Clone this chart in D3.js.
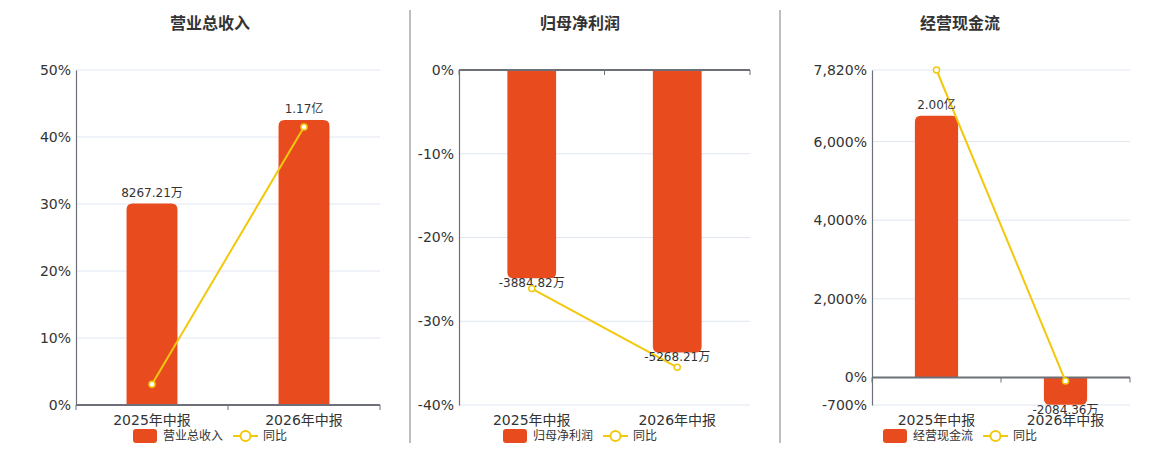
<!DOCTYPE html>
<html>
<head>
<meta charset="utf-8">
<script src="https://cdn.jsdelivr.net/npm/d3@7"></script>
<style>
  body { margin: 0; background: #fff; }
  text { font-family: "DejaVu Sans", "Noto Sans CJK SC", sans-serif; fill: #333; }
</style>
</head>
<body>
<div id="chart"></div>
<script>
// data (amounts in 万元, yoy in %)
const categories = ['2025年中报', '2026年中报'];

const revenueValues = [8267.21, 11700];
const revenueLabels = ['8267.21万', '1.17亿'];
const revenueYoy = [3.1, 41.5];
const revenueTicks = [0, 10, 20, 30, 40, 50];

const profitValues = [-3884.82, -5268.21];
const profitLabels = ['-3884.82万', '-5268.21万'];
const profitYoy = [-26.1, -35.5];
const profitTicks = [0, -10, -20, -30, -40];

const cashValues = [20000, -2084.36];
const cashLabels = ['2.00亿', '-2084.36万'];
const cashYoy = [7820, -90];
const cashTicks = [-700, 0, 2000, 4000, 6000, 7820];

const barColor = '#e84c1e';
const lineColor = '#f2c80c';

const width = 1160, height = 450;
const plotTop = 70, plotBottom = 405;

const panels = [
    { title: '营业总收入', name: '营业总收入', cx: 210, left: 76, right: 380,
      values: revenueValues, labels: revenueLabels, yoy: revenueYoy, ticks: revenueTicks,
      yoyDomain: [0, 50], barDomain: [0, 13750] },
    { title: '归母净利润', name: '归母净利润', cx: 580, left: 459, right: 750,
      values: profitValues, labels: profitLabels, yoy: profitYoy, ticks: profitTicks,
      yoyDomain: [-40, 0], barDomain: [-6250, 0] },
    { title: '经营现金流', name: '经营现金流', cx: 960, left: 872, right: 1130,
      values: cashValues, labels: cashLabels, yoy: cashYoy, ticks: cashTicks,
      yoyDomain: [-700, 7820], barDomain: [-2104, 23500] }
];

const svg = d3.select('#chart').append('svg')
    .attr('width', width)
    .attr('height', height);

// separators between panels
[410, 780].forEach(x => {
    svg.append('line')
        .attr('x1', x).attr('x2', x)
        .attr('y1', 10).attr('y2', 443)
        .attr('stroke', '#a8a8a8')
        .attr('stroke-width', 1.5);
});

// bar with rounded corners only at the far end
function barPath(x, w, y0, y1, r) {
    const h = Math.abs(y1 - y0);
    r = Math.min(r, h, w / 2);
    if (y1 < y0) {
        return `M${x},${y0}V${y1 + r}Q${x},${y1} ${x + r},${y1}H${x + w - r}Q${x + w},${y1} ${x + w},${y1 + r}V${y0}Z`;
    }
    return `M${x},${y0}V${y1 - r}Q${x},${y1} ${x + r},${y1}H${x + w - r}Q${x + w},${y1} ${x + w},${y1 - r}V${y0}Z`;
}

// plain hyphen for negatives, like the original
const fmt = d3.formatLocale({ decimal: '.', thousands: ',', grouping: [3], currency: ['', ''], minus: '-' }).format(',');

panels.forEach(p => {
    const g = svg.append('g');

    const x = d3.scaleBand().domain(categories).range([p.left, p.right]);
    const y = d3.scaleLinear().domain(p.yoyDomain).range([plotBottom, plotTop]);
    const yBar = d3.scaleLinear().domain(p.barDomain).range([plotBottom, plotTop]);
    const zeroY = y(0);

    // title
    g.append('text')
        .attr('x', p.cx).attr('y', 23)
        .attr('text-anchor', 'middle')
        .attr('dominant-baseline', 'central')
        .attr('font-size', 16)
        .attr('font-weight', 'bold')
        .text(p.title);

    // grid lines
    g.append('g')
        .selectAll('line')
        .data(p.ticks.filter(t => t !== 0))
        .enter().append('line')
        .attr('x1', p.left).attr('x2', p.right)
        .attr('y1', d => y(d)).attr('y2', d => y(d))
        .attr('stroke', '#e0e6f1');

    // y axis
    const yAxis = g.append('g')
        .attr('transform', `translate(${p.left},0)`)
        .call(d3.axisLeft(y).tickValues(p.ticks).tickSize(0).tickPadding(5).tickFormat(d => fmt(d) + '%'));
    yAxis.select('.domain').attr('stroke', '#6e7079').attr('stroke-width', 1.2);
    yAxis.selectAll('text').attr('font-size', 14).attr('fill', '#333');

    // bars
    const bw = x.bandwidth() * 0.335;
    g.append('g')
        .selectAll('path')
        .data(p.values)
        .enter().append('path')
        .attr('d', (d, i) => {
            const cx = x(categories[i]) + x.bandwidth() / 2;
            return barPath(cx - bw / 2, bw, yBar(0), yBar(d), 6);
        })
        .attr('fill', barColor);

    // x axis line on zero, ticks at band edges
    g.append('line')
        .attr('x1', p.left).attr('x2', p.right)
        .attr('y1', zeroY).attr('y2', zeroY)
        .attr('stroke', '#6e7079')
        .attr('stroke-width', 2);
    const edges = categories.map(c => x(c)).concat([p.right]);
    g.append('g')
        .selectAll('line')
        .data(edges)
        .enter().append('line')
        .attr('x1', d => d).attr('x2', d => d)
        .attr('y1', zeroY).attr('y2', zeroY + 5)
        .attr('stroke', '#6e7079');

    // category labels
    g.append('g')
        .selectAll('text')
        .data(categories)
        .enter().append('text')
        .attr('x', d => x(d) + x.bandwidth() / 2)
        .attr('y', 420)
        .attr('text-anchor', 'middle')
        .attr('dominant-baseline', 'central')
        .attr('font-size', 14)
        .text(d => d);

    // yoy line
    const line = d3.line()
        .x((d, i) => x(categories[i]) + x.bandwidth() / 2)
        .y(d => y(d));
    g.append('path')
        .datum(p.yoy)
        .attr('d', line)
        .attr('fill', 'none')
        .attr('stroke', lineColor)
        .attr('stroke-width', 2);

    // bar value labels
    g.append('g')
        .selectAll('text')
        .data(p.values)
        .enter().append('text')
        .attr('x', (d, i) => x(categories[i]) + x.bandwidth() / 2)
        .attr('y', d => d >= 0 ? yBar(d) - 11 : yBar(d) + 5)
        .attr('text-anchor', 'middle')
        .attr('dominant-baseline', 'central')
        .attr('font-size', 12)
        .text((d, i) => p.labels[i]);

    g.append('g')
        .selectAll('circle')
        .data(p.yoy)
        .enter().append('circle')
        .attr('cx', (d, i) => x(categories[i]) + x.bandwidth() / 2)
        .attr('cy', d => y(d))
        .attr('r', 3)
        .attr('fill', '#fff')
        .attr('stroke', lineColor)
        .attr('stroke-width', 1.5);

    // legend
    const lg = g.append('g').attr('transform', `translate(${p.cx - 77},436)`);
    lg.append('rect')
        .attr('x', 0).attr('y', -7)
        .attr('width', 24).attr('height', 14)
        .attr('rx', 3)
        .attr('fill', barColor);
    lg.append('text')
        .attr('x', 30).attr('y', 0)
        .attr('dominant-baseline', 'central')
        .attr('font-size', 12)
        .text(p.name);
    const l2 = 30 + p.name.length * 12 + 10;
    lg.append('line')
        .attr('x1', l2).attr('x2', l2 + 25)
        .attr('y1', 0).attr('y2', 0)
        .attr('stroke', lineColor)
        .attr('stroke-width', 2);
    lg.append('circle')
        .attr('cx', l2 + 12.5).attr('cy', 0)
        .attr('r', 5)
        .attr('fill', '#fff')
        .attr('stroke', lineColor)
        .attr('stroke-width', 2);
    lg.append('text')
        .attr('x', l2 + 30).attr('y', 0)
        .attr('dominant-baseline', 'central')
        .attr('font-size', 12)
        .text('同比');
});
</script>
</body>
</html>
